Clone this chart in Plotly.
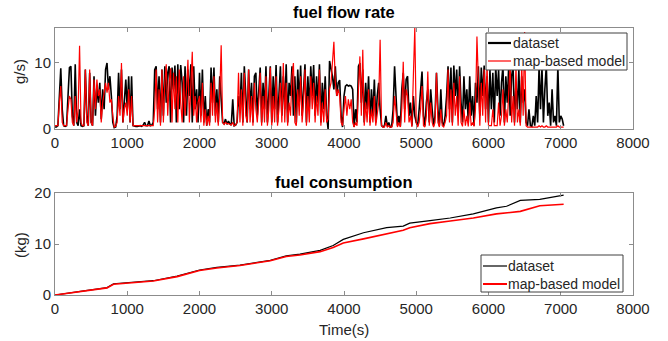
import plotly.graph_objects as go

# ---------------- data ----------------
# fuel flow rate, sampled every 20 s from 0 to 7040 s
t_flow = list(range(0, 7041, 20))

flow_dataset = [
    # 0-980
    0.3, 0.3, 0.5, 6, 9.2, 3, 0.5, 0.4, 0.5, 5, 9.3, 9.5, 2, 0.5, 9.8, 1, 0.5, 3, 0.5, 0.4,
    0.5, 9, 2, 0.5, 8.5, 1, 0.5, 8, 2, 6.5, 4, 7, 1.5, 6, 3, 9, 10, 6, 8, 5,
    1, 0.2, 0.3, 2, 8.5, 3, 9, 1, 5, 7.5,
    # 1000-1980
    3, 8, 1, 8, 0.5, 0.4, 0.4, 0.4, 0.5, 0.5, 0.4, 0.6, 1, 0.5, 0.5, 1.2, 0.5, 0.6, 1, 9,
    9.5, 3, 8, 1, 9, 2, 9.5, 4, 8.5, 9.5, 1, 9.3, 6, 9.6, 1, 9.8, 3, 9.7, 7, 1,
    9.5, 2, 9, 5, 9.8, 1, 9.5, 3, 6, 1,
    # 2000-2980
    8.5, 2, 9, 1, 5, 0.5, 3, 1, 9.3, 4, 9.3, 2, 6, 1, 8, 4, 1, 0.8, 1.5, 0.7,
    1.2, 0.8, 0.6, 4.5, 0.5, 0.6, 1, 5, 3, 8.5, 1, 9.5, 5, 1, 9, 3, 7, 1, 8, 8.5,
    2, 6, 9.3, 1, 7, 3, 9.5, 1, 6, 9.5,
    # 3000-3980
    1, 8, 3, 9.7, 1, 6, 9.5, 2, 8, 3, 9.8, 1, 7, 5, 9.5, 2, 8, 1, 9, 4,
    9.6, 2, 7, 9.8, 1, 8, 3, 9.5, 5, 9.7, 2, 8, 4, 9.8, 1, 7, 3, 8, 2, 0,
    10.3, 9, 8, 6, 9.5, 5, 7, 7.4, 2, 0.3,
    # 4000-4980
    5, 6.5, 6.7, 6.5, 6.6, 6.5, 6, 0.3, 3, 1, 9.5, 10, 4, 9, 1, 7, 3, 8, 1, 6,
    2, 7.5, 1, 5, 7, 3, 0.5, 0.3, 0.5, 2, 0.4, 1, 0.3, 0.4, 3, 9.5, 4, 0.5, 2, 0.4,
    6, 8.5, 3, 7.5, 8, 2, 4, 0.5, 5, 2,
    # 5000-5980
    1, 0.5, 3, 6, 8.7, 2, 0.5, 4, 6, 1, 6, 3, 0.5, 2, 8.5, 3, 0.5, 6, 1, 0.5,
    2, 5, 9.5, 3, 9.3, 1, 9.6, 5, 9, 2, 9.5, 4, 1, 8, 3, 6, 1, 8, 2, 5,
    0.5, 7, 4, 9.5, 2, 9.3, 5, 9.6, 3, 8,
    # 6000-6980
    1, 9, 3, 8.5, 1, 9.5, 5, 9, 2, 7, 9.5, 1, 8, 4, 9.6, 2, 8, 9.5, 1, 7,
    3, 9, 1, 8, 4, 6, 1, 0.5, 3, 0.5, 0.4, 2, 0.5, 5, 1, 9.5, 3, 9.3, 1, 6,
    9.6, 2, 4, 0.5, 6, 1, 2, 0.5, 9.5, 1,
    # 7000-7040
    2, 1.5, 0.5,
]

flow_model = [
    # 0-980
    0.5, 0.5, 0.5, 4, 6.5, 1, 0.5, 0.5, 0.5, 3, 5, 4.5, 1, 0.5, 5, 1, 3, 12.6, 1, 0.5,
    0.5, 9, 1, 0.5, 9, 1, 0.5, 7.5, 3, 7.5, 5, 6, 1, 4, 6, 7, 5.5, 7, 4, 4.5,
    2, 0.3, 0.4, 1, 5, 2, 10, 1, 3, 4,
    # 1000-1980
    2, 6, 1, 5, 0.5, 0.5, 0.5, 0.5, 0.5, 0.5, 0.5, 0.5, 0.5, 0.5, 0.5, 0.5, 0.5, 0.5, 0.5, 3,
    9, 1, 6, 0.5, 9, 1, 7, 9.8, 2, 7, 9.2, 1, 8.5, 3, 8, 1, 9, 4, 1, 8,
    2, 6, 10.5, 1, 7, 11.7, 2, 5, 1, 4,
    # 2000-2980
    5, 1, 7, 0.5, 3, 0.5, 2, 0.5, 7, 2, 8, 1, 4, 0.5, 5, 12.7, 1, 0.7, 1, 0.8,
    0.8, 0.7, 0.6, 1, 0.5, 0.6, 1, 8.5, 1, 6, 0.5, 8.5, 2, 1, 9, 1, 5, 0.5, 7, 3,
    1, 4, 8.5, 0.5, 5, 1, 8, 0.5, 3, 9.3,
    # 3000-3980
    0.5, 5, 1, 8, 0.5, 3, 7, 1, 10, 1, 7, 0.5, 4, 2, 8, 10, 1, 0.5, 6, 2,
    8, 1, 4, 9, 0.5, 5, 1, 8, 3, 7, 1, 5, 2, 9, 0.5, 4, 1, 6, 1, 1.5,
    6, 7, 10, 13.2, 7, 5, 6, 5, 1, 0.5,
    # 4000-4980
    3, 5, 2, 4.5, 3, 4.5, 1, 0.3, 1, 0.5, 6, 11, 2, 12, 0.5, 4, 1, 6, 0.5, 3,
    1, 5, 0.5, 2, 4, 13.5, 0.5, 0.3, 0.3, 1, 0.3, 0.5, 0.3, 0.3, 1, 5, 2, 0.3, 1, 0.3,
    3, 10.2, 1, 6, 5, 1, 2, 0.3, 8, 15.3,
    # 5000-5980
    1, 0.3, 1, 3, 6.5, 0.5, 0.3, 2, 8.7, 0.5, 4, 1, 0.3, 1, 8.5, 1, 0.3, 3, 0.5, 0.3,
    1, 2, 9, 1, 6, 0.5, 7, 2, 5, 0.5, 8, 1, 0.4, 3, 0.5, 2, 0.4, 4, 0.5, 1,
    0.4, 3, 14, 5, 0.5, 7, 2, 9, 1, 10,
    # 6000-6980
    0.5, 0.5, 0.5, 3, 0.5, 0.5, 0.5, 4, 0.5, 2, 6, 0.5, 3, 1, 7, 10, 1, 5, 0.5, 9.5,
    1, 3, 0.5, 10, 2, 14.7, 0.5, 0.3, 0.3, 0.3, 0.3, 0.3, 0.3, 0.3, 0.3, 0.5, 0.3, 0.5, 0.3, 0.3,
    0.5, 0.3, 0.3, 0.3, 0.3, 0.3, 0.3, 0.3, 0.5, 0.3,
    # 7000-7040
    0.3, 0.3, 0.3,
]

# fuel consumption (kg)
t_cum = [0, 200, 400, 600, 720, 810, 1000, 1360, 1690, 2000, 2240, 2560, 2980, 3200, 3390,
         3670, 3850, 3990, 4270, 4590, 4820, 4910, 5190, 5470, 5790, 6110, 6250, 6440, 6710, 7040]
cum_dataset = [0, 0.35, 0.8, 1.2, 1.45, 2.2, 2.4, 2.8, 3.7, 4.9, 5.4, 5.85, 6.8, 7.7, 8.0,
               8.75, 9.7, 10.9, 12.2, 13.2, 13.5, 14.1, 14.6, 15.1, 15.9, 17.1, 17.4, 18.55, 18.75, 19.6]
cum_model = [0, 0.35, 0.8, 1.15, 1.4, 2.1, 2.35, 2.75, 3.6, 4.8, 5.3, 5.8, 6.7, 7.55, 7.85,
             8.5, 9.3, 10.2, 11.0, 12.0, 12.7, 13.2, 14.0, 14.5, 15.1, 15.9, 16.1, 16.4, 17.5, 17.8]

x_ticks = [0, 1000, 2000, 3000, 4000, 5000, 6000, 7000, 8000]
names = ["dataset", "map-based model"]

# ---------------- figure ----------------
FONT = "Liberation Sans, Arial, sans-serif"
AX = "#8c8c8c"
TXT = "#262626"
COLORS = ["black", "#ff0000"]

fig = go.Figure()
fig.add_trace(go.Scatter(x=t_flow, y=flow_dataset, mode="lines", name=names[0],
                         line=dict(color=COLORS[0], width=1.6), xaxis="x", yaxis="y"))
fig.add_trace(go.Scatter(x=t_flow, y=flow_model, mode="lines", name=names[1],
                         line=dict(color=COLORS[1], width=1.2), xaxis="x", yaxis="y"))
fig.add_trace(go.Scatter(x=t_cum, y=cum_dataset, mode="lines", name=names[0],
                         line=dict(color=COLORS[0], width=1.2), xaxis="x2", yaxis="y2"))
fig.add_trace(go.Scatter(x=t_cum, y=cum_model, mode="lines", name=names[1],
                         line=dict(color=COLORS[1], width=1.6), xaxis="x2", yaxis="y2"))

axis_common = dict(showline=True, linecolor=AX, linewidth=1, mirror="ticks",
                   ticks="inside", ticklen=4, tickcolor=AX, showgrid=False, zeroline=False,
                   tickfont=dict(family=FONT, size=15, color=TXT))

W, H = 668, 341
ML, MR, MT, MB = 55, 35, 28, 46
W_PLOT = W - ML - MR
H_PLOT = H - MT - MB


def px_to_paper(px, py):
    """pixel position from the picture's top-left -> paper coordinates"""
    return (px - ML) / W_PLOT, (H - py - MB) / H_PLOT


def ann(text, px, py, size, color, angle=0, xanchor="center"):
    x, y = px_to_paper(px, py)
    return dict(text=text, x=x, y=y, xref="paper", yref="paper", showarrow=False,
                textangle=angle, xanchor=xanchor, yanchor="middle",
                font=dict(family=FONT, size=size, color=color))


annotations = [
    ann("<b>fuel flow rate</b>", 344, 12, 16.5, "black"),
    ann("<b>fuel consumption</b>", 344, 182, 16.5, "black"),
    ann("Time(s)", 344, 329, 15, TXT),
    ann("g/s)", 20, 72, 15, TXT, -90),
    ann("(kg)", 20, 245, 15, TXT, -90),
]
shapes = []


def legend_box(x0, y0, x1, y1, line_x0, line_x1, text_x, rows, widths):
    bx0, by0 = px_to_paper(x0, y1)
    bx1, by1 = px_to_paper(x1, y0)
    shapes.append(dict(type="rect", xref="paper", yref="paper", x0=bx0, y0=by0, x1=bx1, y1=by1,
                       fillcolor="white", line=dict(color="#404040", width=1), layer="above"))
    for name, color, row_y, w in zip(names, COLORS, rows, widths):
        lx0, ly = px_to_paper(line_x0, row_y)
        lx1, _ = px_to_paper(line_x1, row_y)
        shapes.append(dict(type="line", xref="paper", yref="paper", x0=lx0, x1=lx1, y0=ly, y1=ly,
                           line=dict(color=color, width=w), layer="above"))
        annotations.append(ann(name, text_x, row_y, 14, TXT, xanchor="left"))


legend_box(486, 33, 627, 70, 488, 511, 511, [43, 61], [2.2, 1.2])
legend_box(481, 255, 623, 292, 483, 507, 506, [266, 284], [1.2, 2.0])

fig.update_layout(
    width=W, height=H,
    margin=dict(l=ML, r=MR, t=MT, b=MB),
    paper_bgcolor="white", plot_bgcolor="white",
    font=dict(family=FONT, color=TXT),
    xaxis=dict(domain=[0, 1], anchor="y", range=[0, 8000], tickvals=x_ticks, **axis_common),
    yaxis=dict(domain=[0.6217, 1], anchor="x", range=[0, 15.3], tickvals=[0, 10], **axis_common),
    xaxis2=dict(domain=[0, 1], anchor="y2", range=[0, 8000], tickvals=x_ticks, **axis_common),
    yaxis2=dict(domain=[0, 0.382], anchor="x2", range=[0, 20], tickvals=[0, 10, 20], **axis_common),
    showlegend=False,
    annotations=annotations,
    shapes=shapes,
)

fig.write_html("out.html", config={"displayModeBar": False},
               post_script="document.body.style.margin='0px';")
